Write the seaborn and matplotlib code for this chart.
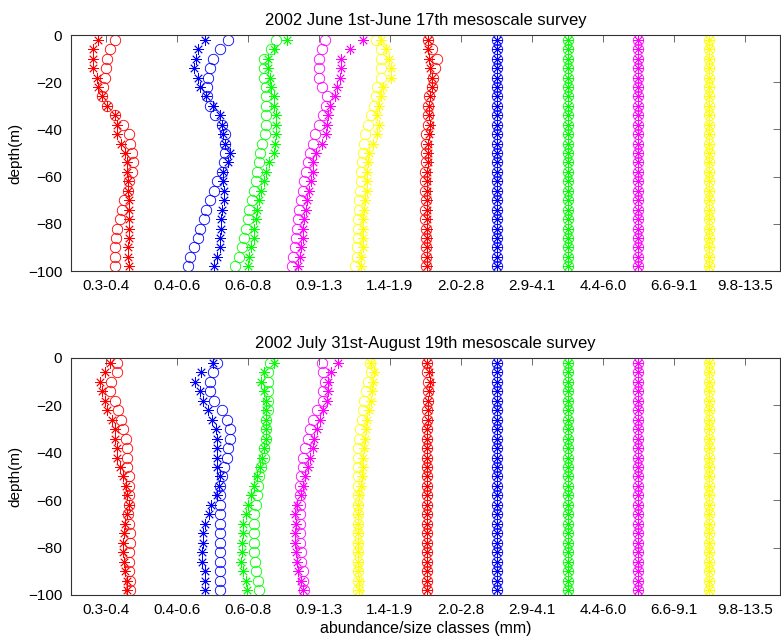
import matplotlib
matplotlib.use("Agg")
import matplotlib.pyplot as plt
import seaborn as sns

# depth of each sample (m)
depth = [-2, -6, -10, -14, -18, -22, -26, -30, -34, -38, -42, -46, -50,
         -54, -58, -62, -66, -70, -74, -78, -82, -86, -90, -94, -98]

size_classes = ["0.3-0.4", "0.4-0.6", "0.6-0.8", "0.9-1.3", "1.4-1.9",
                "2.0-2.8", "2.9-4.1", "4.4-6.0", "6.6-9.1", "9.8-13.5"]
class_colors = ["red", "blue", "lime", "magenta", "yellow",
                "red", "blue", "lime", "magenta", "yellow"]

# ---- June 1st - June 17th survey (x in size-class axis units) ----
jun_c1_star = [0.88, 0.82, 0.82, 0.82, 0.87, 0.89, 0.94, 1.02, 1.12, 1.15, 1.15, 1.21, 1.27,
               1.29, 1.29, 1.31, 1.31, 1.32, 1.32, 1.32, 1.32, 1.32, 1.31, 1.31, 1.32]
jun_c1_circ = [1.12, 1.06, 1.02, 1.00, 0.98, 0.96, 0.94, 1.02, 1.13, 1.24, 1.32, 1.34, 1.37,
               1.38, 1.36, 1.32, 1.31, 1.26, 1.22, 1.19, 1.16, 1.14, 1.13, 1.12, 1.12]
jun_c2_star = [2.40, 2.29, 2.27, 2.24, 2.29, 2.33, 2.41, 2.50, 2.61, 2.64, 2.65, 2.68, 2.74,
               2.72, 2.65, 2.65, 2.66, 2.66, 2.64, 2.62, 2.62, 2.61, 2.60, 2.56, 2.52]
jun_c2_circ = [2.72, 2.61, 2.51, 2.47, 2.44, 2.42, 2.42, 2.46, 2.54, 2.63, 2.68, 2.68, 2.68,
               2.66, 2.63, 2.56, 2.52, 2.47, 2.41, 2.38, 2.32, 2.30, 2.24, 2.18, 2.16]
jun_c3_star = [3.55, 3.36, 3.28, 3.28, 3.31, 3.32, 3.36, 3.36, 3.39, 3.40, 3.39, 3.38, 3.36,
               3.30, 3.25, 3.22, 3.18, 3.15, 3.12, 3.11, 3.09, 3.08, 3.04, 3.01, 3.00]
jun_c3_circ = [3.39, 3.32, 3.23, 3.22, 3.23, 3.25, 3.26, 3.26, 3.26, 3.26, 3.24, 3.20, 3.17,
               3.15, 3.12, 3.11, 3.08, 3.05, 3.01, 3.00, 2.97, 2.95, 2.91, 2.87, 2.82]
jun_c4_star = [4.62, 4.43, 4.31, 4.31, 4.30, 4.26, 4.22, 4.16, 4.13, 4.11, 4.10, 4.04, 3.96,
               3.92, 3.91, 3.89, 3.86, 3.83, 3.82, 3.79, 3.78, 3.77, 3.75, 3.73, 3.71]
jun_c4_circ = [4.09, 4.04, 4.00, 4.00, 4.00, 4.04, 4.11, 4.10, 4.05, 4.00, 3.94, 3.92, 3.87,
               3.85, 3.82, 3.79, 3.77, 3.74, 3.72, 3.71, 3.69, 3.68, 3.66, 3.64, 3.62]
jun_c5_star = [4.87, 4.95, 4.98, 5.02, 5.01, 4.90, 4.88, 4.84, 4.82, 4.84, 4.82, 4.76, 4.71,
               4.69, 4.68, 4.68, 4.67, 4.65, 4.63, 4.62, 4.62, 4.62, 4.62, 4.59, 4.59]
jun_c5_circ = [4.80, 4.87, 4.88, 4.88, 4.87, 4.82, 4.80, 4.77, 4.73, 4.69, 4.65, 4.63, 4.62,
               4.60, 4.59, 4.59, 4.58, 4.57, 4.57, 4.55, 4.55, 4.55, 4.54, 4.53, 4.51]
jun_c6_star = [5.53, 5.54, 5.55, 5.57, 5.59, 5.59, 5.56, 5.55, 5.55, 5.56, 5.55, 5.53, 5.53,
               5.53, 5.52, 5.52, 5.52, 5.52, 5.52, 5.52, 5.52, 5.52, 5.52, 5.52, 5.52]
jun_c6_circ = [5.53, 5.59, 5.66, 5.63, 5.61, 5.59, 5.55, 5.53, 5.53, 5.53, 5.51, 5.51, 5.51,
               5.51, 5.50, 5.50, 5.50, 5.51, 5.50, 5.50, 5.51, 5.51, 5.51, 5.51, 5.51]

# ---- July 31st - August 19th survey ----
aug_c1_star = [1.06, 0.98, 0.92, 0.95, 0.99, 1.02, 1.08, 1.12, 1.12, 1.15, 1.15, 1.20, 1.24,
               1.28, 1.29, 1.32, 1.29, 1.27, 1.26, 1.24, 1.24, 1.26, 1.27, 1.29, 1.29]
aug_c1_circ = [1.15, 1.15, 1.07, 1.06, 1.12, 1.17, 1.21, 1.24, 1.28, 1.29, 1.29, 1.29, 1.32,
               1.32, 1.32, 1.32, 1.31, 1.32, 1.34, 1.34, 1.32, 1.32, 1.32, 1.34, 1.34]
aug_c2_star = [2.50, 2.34, 2.25, 2.32, 2.36, 2.43, 2.49, 2.55, 2.56, 2.56, 2.56, 2.57, 2.61,
               2.59, 2.56, 2.48, 2.45, 2.40, 2.37, 2.36, 2.35, 2.35, 2.39, 2.40, 2.40]
aug_c2_circ = [2.56, 2.50, 2.47, 2.47, 2.52, 2.64, 2.70, 2.74, 2.74, 2.72, 2.70, 2.66, 2.63,
               2.61, 2.60, 2.61, 2.60, 2.60, 2.60, 2.60, 2.60, 2.60, 2.60, 2.60, 2.60]
aug_c3_star = [3.37, 3.22, 3.18, 3.23, 3.26, 3.26, 3.26, 3.26, 3.25, 3.23, 3.20, 3.17, 3.12,
               3.09, 3.04, 3.00, 2.97, 2.93, 2.93, 2.92, 2.91, 2.90, 2.93, 2.97, 2.98]
aug_c3_circ = [3.31, 3.28, 3.28, 3.28, 3.28, 3.28, 3.26, 3.26, 3.25, 3.23, 3.22, 3.18, 3.16,
               3.14, 3.12, 3.11, 3.09, 3.09, 3.09, 3.09, 3.09, 3.10, 3.11, 3.14, 3.15]
aug_c4_star = [4.27, 4.17, 4.13, 4.12, 4.11, 4.06, 4.01, 3.97, 3.93, 3.91, 3.87, 3.84, 3.80,
               3.77, 3.75, 3.69, 3.66, 3.67, 3.66, 3.66, 3.67, 3.69, 3.71, 3.75, 3.77]
aug_c4_circ = [4.04, 4.06, 4.08, 4.06, 4.05, 3.97, 3.91, 3.87, 3.84, 3.80, 3.78, 3.77, 3.75,
               3.73, 3.73, 3.73, 3.73, 3.73, 3.73, 3.73, 3.75, 3.75, 3.77, 3.78, 3.79]
aug_c5_star = [4.73, 4.77, 4.76, 4.74, 4.73, 4.71, 4.68, 4.66, 4.65, 4.63, 4.62, 4.62, 4.60,
               4.59, 4.57, 4.55, 4.55, 4.55, 4.55, 4.55, 4.55, 4.55, 4.55, 4.56, 4.56]
aug_c5_circ = [4.72, 4.73, 4.69, 4.66, 4.63, 4.62, 4.60, 4.58, 4.57, 4.55, 4.55, 4.55, 4.55,
               4.55, 4.55, 4.55, 4.55, 4.55, 4.55, 4.55, 4.55, 4.55, 4.55, 4.55, 4.55]
aug_c6_star = [5.52, 5.55, 5.57, 5.55, 5.54, 5.53, 5.53, 5.52, 5.52, 5.52, 5.52, 5.52, 5.52,
               5.52, 5.52, 5.52, 5.52, 5.52, 5.52, 5.52, 5.52, 5.52, 5.52, 5.52, 5.52]
aug_c6_circ = [5.52, 5.52, 5.53, 5.53, 5.53, 5.52, 5.52, 5.52, 5.52, 5.52, 5.52, 5.52, 5.52,
               5.52, 5.52, 5.52, 5.52, 5.52, 5.52, 5.52, 5.52, 5.52, 5.52, 5.52, 5.52]

# largest classes: same in both surveys, stars and circles overlap
c7_vals = [6.51, 6.51, 6.51, 6.51, 6.51, 6.51, 6.51, 6.51, 6.51, 6.51, 6.51, 6.51, 6.51,
           6.51, 6.51, 6.51, 6.51, 6.51, 6.51, 6.51, 6.51, 6.51, 6.51, 6.51, 6.51]
c8_vals = [7.51, 7.51, 7.51, 7.51, 7.51, 7.51, 7.51, 7.51, 7.51, 7.51, 7.51, 7.51, 7.51,
           7.51, 7.51, 7.51, 7.51, 7.51, 7.51, 7.51, 7.51, 7.51, 7.51, 7.51, 7.51]
c9_vals = [8.49, 8.49, 8.49, 8.49, 8.49, 8.49, 8.49, 8.49, 8.49, 8.49, 8.49, 8.49, 8.49,
           8.49, 8.49, 8.49, 8.49, 8.49, 8.49, 8.49, 8.49, 8.49, 8.49, 8.49, 8.49]
c10_vals = [9.49, 9.49, 9.49, 9.49, 9.49, 9.49, 9.49, 9.49, 9.49, 9.49, 9.49, 9.49, 9.49,
            9.49, 9.49, 9.49, 9.49, 9.49, 9.49, 9.49, 9.49, 9.49, 9.49, 9.49, 9.49]

jun_stars = [jun_c1_star, jun_c2_star, jun_c3_star, jun_c4_star, jun_c5_star, jun_c6_star,
             c7_vals, c8_vals, c9_vals, c10_vals]
jun_circs = [jun_c1_circ, jun_c2_circ, jun_c3_circ, jun_c4_circ, jun_c5_circ, jun_c6_circ,
             c7_vals, c8_vals, c9_vals, c10_vals]
aug_stars = [aug_c1_star, aug_c2_star, aug_c3_star, aug_c4_star, aug_c5_star, aug_c6_star,
             c7_vals, c8_vals, c9_vals, c10_vals]
aug_circs = [aug_c1_circ, aug_c2_circ, aug_c3_circ, aug_c4_circ, aug_c5_circ, aug_c6_circ,
             c7_vals, c8_vals, c9_vals, c10_vals]

sns.set_style("white")
plt.rcParams["font.family"] = ["Liberation Sans", "DejaVu Sans"]
plt.rcParams["font.size"] = 11
plt.rcParams["text.color"] = "black"
plt.rcParams["axes.labelcolor"] = "black"
plt.rcParams["xtick.labelcolor"] = "black"
plt.rcParams["ytick.labelcolor"] = "black"

fig = plt.figure(figsize=(7.81, 6.43), dpi=100)
ax1 = fig.add_axes([0.0903, 0.5785, 0.909, 0.367])
ax2 = fig.add_axes([0.0903, 0.0747, 0.909, 0.3686])


def draw_survey(ax, stars, circs, title):
    for xs, col in zip(circs, class_colors):
        sns.lineplot(x=xs, y=depth, ax=ax, sort=False, estimator=None, orient="y",
                     linestyle="", marker="o", markersize=7.5, markerfacecolor="none",
                     markeredgecolor=col, markeredgewidth=0.6, color=col)
    for xs, col in zip(stars, class_colors):
        sns.lineplot(x=xs, y=depth, ax=ax, sort=False, estimator=None, orient="y",
                     linestyle="", marker=(8, 2, 0), markersize=7.5, markeredgecolor=col,
                     markeredgewidth=0.6, color=col)
    ax.set_xlim(0.5, 10.5)
    ax.set_ylim(-100, 0)
    ax.set_xticks(range(1, 11))
    ax.set_xticklabels(size_classes)
    ax.set_yticks([0, -20, -40, -60, -80, -100])
    ax.tick_params(direction="in", length=5, width=0.6, color="#555555",
                   top=True, right=True, labelsize=11, pad=6)
    for sp in ax.spines.values():
        sp.set_visible(True)
        sp.set_color("#333333")
        sp.set_linewidth(0.8)
    ax.set_ylabel("depth(m)", fontsize=11, labelpad=4)
    ax.set_title(title, fontsize=12, pad=7)


draw_survey(ax1, jun_stars, jun_circs, "2002 June 1st-June 17th mesoscale survey")
draw_survey(ax2, aug_stars, aug_circs, "2002 July 31st-August 19th mesoscale survey")
ax2.set_xlabel("abundance/size classes (mm)", fontsize=11.5, labelpad=3)

fig.savefig("out.png", dpi=100)
